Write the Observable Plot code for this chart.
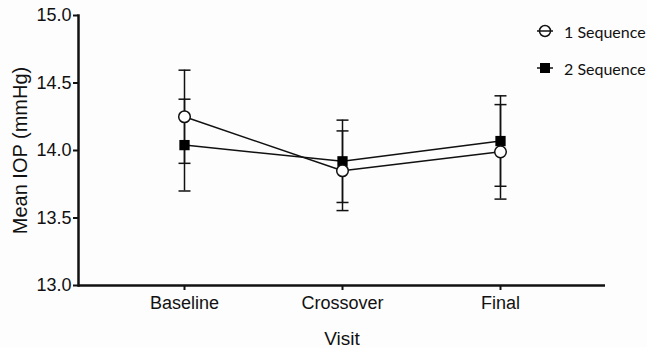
<!DOCTYPE html>
<html>
<head>
<meta charset="utf-8">
<script src="https://cdn.jsdelivr.net/npm/d3@7"></script>
<script src="https://cdn.jsdelivr.net/npm/@observablehq/plot@0.6"></script>
<style>
  html, body { margin: 0; padding: 0; background: #fdfdfd; }
  #wrap { position: relative; width: 647px; height: 347px; }
  #legend { position: absolute; left: 535px; top: 19px; font-family: Lato, "Open Sans", sans-serif; font-size: 16px; color: #111; }
  .item { display: flex; align-items: center; height: 24px; margin-bottom: 13px; }
  .item svg { margin-right: 9px; }
</style>
</head>
<body>
<div id="wrap">
  <div id="chart"></div>
  <div id="legend"></div>
</div>
<script>
const visits = ["Baseline", "Crossover", "Final"];
const seriesNames = ["1 Sequence", "2 Sequence"];
const seq1Mean = [14.25, 13.85, 13.99];
const seq1Err = [0.345, 0.295, 0.35];
const seq2Mean = [14.04, 13.92, 14.07];
const seq2Err = [0.34, 0.305, 0.335];
const yTicks = [13.0, 13.5, 14.0, 14.5, 15.0];
const yLabel = "Mean IOP (mmHg)";
const xLabel = "Visit";

const rows = [];
visits.forEach((v, i) => {
  rows.push({visit: v, series: seriesNames[0], mean: seq1Mean[i], lo: seq1Mean[i] - seq1Err[i], hi: seq1Mean[i] + seq1Err[i]});
  rows.push({visit: v, series: seriesNames[1], mean: seq2Mean[i], lo: seq2Mean[i] - seq2Err[i], hi: seq2Mean[i] + seq2Err[i]});
});
const s1 = rows.filter(d => d.series === seriesNames[0]);
const s2 = rows.filter(d => d.series === seriesNames[1]);

const capSymbol = {
  draw(ctx, size) {
    const r = Math.sqrt(size / Math.PI);
    ctx.moveTo(-r, 0);
    ctx.lineTo(r, 0);
  }
};

const chart = Plot.plot({
  width: 647,
  height: 347,
  marginLeft: 78,
  marginRight: 42,
  marginTop: 15,
  marginBottom: 62,
  style: {fontFamily: "Liberation Sans, Arial, sans-serif", background: "transparent", color: "#111"},
  x: {type: "point", domain: visits, padding: 0.667},
  y: {domain: [13, 15]},
  marks: [
    Plot.axisY({ticks: yTicks, tickFormat: d => d.toFixed(1), fontSize: 18, tickSize: 5, tickPadding: 2, strokeWidth: 2, label: null}),
    Plot.axisX({fontSize: 18, tickSize: 5, tickPadding: 6, strokeWidth: 2, label: null}),
    Plot.text([yLabel], {frameAnchor: "left", textAnchor: "middle", dx: -58, rotate: -90, fontSize: 20, fill: "#111"}),
    Plot.text([xLabel], {frameAnchor: "bottom", dy: 59, fontSize: 19, fill: "#111"}),
    Plot.ruleY([13], {stroke: "#111", strokeWidth: 2.5}),
    Plot.frame({anchor: "left", stroke: "#111", strokeWidth: 2.5}),
    Plot.ruleX(rows, {x: "visit", y1: "lo", y2: "hi", stroke: "#111", strokeWidth: 1.5}),
    Plot.dot(rows, {x: "visit", y: "lo", symbol: capSymbol, r: 6, stroke: "#111", strokeWidth: 1.5}),
    Plot.dot(rows, {x: "visit", y: "hi", symbol: capSymbol, r: 6, stroke: "#111", strokeWidth: 1.5}),
    Plot.line(rows, {x: "visit", y: "mean", z: "series", stroke: "#111", strokeWidth: 1.5}),
    Plot.dot(s2, {x: "visit", y: "mean", symbol: "square", r: 5.8, fill: "#000", stroke: "none"}),
    Plot.dot(s1, {x: "visit", y: "mean", symbol: "circle", r: 5.8, fill: "white", stroke: "#111", strokeWidth: 1.5})
  ]
});
document.getElementById("chart").appendChild(chart);

const legend = document.getElementById("legend");
seriesNames.forEach((name, i) => {
  const item = document.createElement("div");
  item.className = "item";
  const sym = i === 0
    ? '<svg width="20" height="14"><circle cx="10" cy="7" r="5.5" fill="white" stroke="#111" stroke-width="1.5"/><line x1="2" x2="18" y1="7" y2="7" stroke="#111" stroke-width="1.5"/></svg>'
    : '<svg width="20" height="14"><line x1="2" x2="18" y1="7" y2="7" stroke="#111" stroke-width="1.5"/><rect x="5" y="2" width="10" height="10" fill="#000"/></svg>';
  item.innerHTML = sym + '<span>' + name + '</span>';
  legend.appendChild(item);
});
</script>
</body>
</html>
